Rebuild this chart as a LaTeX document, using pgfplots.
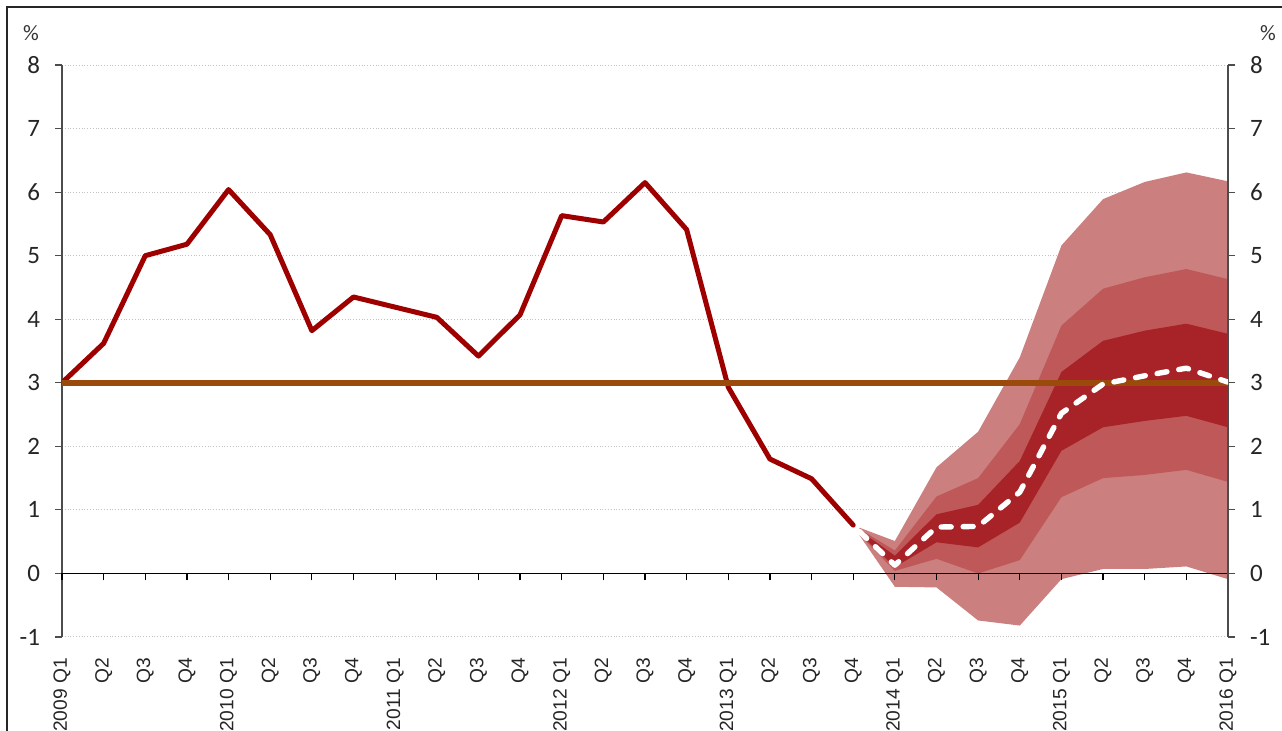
\documentclass[border=0pt]{standalone}
\usepackage{fontspec}
\setmainfont{Liberation Sans}
\newfontfamily\yfont{Carlito}
\usepackage{pgfplots}
\pgfplotsset{compat=1.18}
\usepackage{pgfplotstable}

\definecolor{lred}{RGB}{158,0,0}
\definecolor{lorange}{RGB}{154,74,10}
\definecolor{fout}{RGB}{203,127,127}
\definecolor{fmid}{RGB}{191,89,89}
\definecolor{finn}{RGB}{168,35,39}
\definecolor{gridc}{RGB}{195,195,195}

\pgfplotstableread{
x y
0 3.00
1 3.62
2 5.00
3 5.18
4 6.04
5 5.33
6 3.82
7 4.35
8 4.19
9 4.03
10 3.42
11 4.07
12 5.63
13 5.53
14 6.15
15 5.41
16 2.93
17 1.80
18 1.49
19 0.76
}\hist

\pgfplotstableread{
x c
19.15 0.66
20 0.13
21 0.73
22 0.74
23 1.28
24 2.52
25 2.98
26 3.11
27 3.23
28 3.01
}\central

\pgfplotstableread{
x y
0 3
28 3
}\target

\begin{document}
\begin{tikzpicture}
\useasboundingbox (0,0) rectangle (641pt,-365.5pt);
\draw[line width=1.1pt, black!85] (3.5pt,-400pt) -- (3.5pt,-3.5pt) -- (700pt,-3.5pt);
\node[font=\yfont\fontsize{11}{11}\selectfont, text=black!80] at (15.5pt,-16.5pt) {\%};
\node[font=\yfont\fontsize{11}{11}\selectfont, text=black!80] at (634pt,-16.5pt) {\%};
\begin{axis}[
  at={(31pt,-318.5pt)}, anchor=south west,
  width=583pt, height=286pt, scale only axis,
  xmin=0, xmax=28, ymin=-1, ymax=8,
  axis y line*=left, axis x line*=bottom,
  x axis line style={draw=none},
  y axis line style={black!70, line width=0.6pt},
  xtick={0,...,28},
  xticklabels={2009 Q1,Q2,Q3,Q4,2010 Q1,Q2,Q3,Q4,2011 Q1,Q2,Q3,Q4,2012 Q1,Q2,Q3,Q4,2013 Q1,Q2,Q3,Q4,2014 Q1,Q2,Q3,Q4,2015 Q1,Q2,Q3,Q4,2016 Q1},
  xticklabel style={rotate=90, anchor=east, font=\fontsize{9.6}{9.6}\selectfont, text=black!85, xshift=-3.5pt},
  major x tick style={draw=none},
  ytick={-1,...,8},
  yticklabels={-1,0,1,2,3,4,5,6,7,8},
  yticklabel style={font=\yfont\fontsize{12.5}{12.5}\selectfont, text=black!85, anchor=east, xshift=-4pt},
  tick align=outside,
  major tick length=3.5pt,
  major y tick style={black!70, line width=0.6pt},
  ymajorgrids,
  grid style={densely dotted, gridc, line width=0.5pt},
]
\addplot[fill=fout, draw=none] coordinates {(19.15,0.72)(20,0.51)(21,1.67)(22,2.23)(23,3.40)(24,5.16)(25,5.89)(26,6.16)(27,6.31)(28,6.17)(28,-0.09)(27,0.11)(26,0.07)(25,0.07)(24,-0.09)(23,-0.82)(22,-0.74)(21,-0.22)(20,-0.21)(19.15,0.60)} -- cycle;
\addplot[fill=fmid, draw=none] coordinates {(19.15,0.70)(20,0.36)(21,1.21)(22,1.50)(23,2.35)(24,3.90)(25,4.48)(26,4.66)(27,4.79)(28,4.63)(28,1.44)(27,1.63)(26,1.55)(25,1.50)(24,1.20)(23,0.21)(22,0.00)(21,0.23)(20,0.04)(19.15,0.61)} -- cycle;
\addplot[fill=finn, draw=none] coordinates {(19.15,0.68)(20,0.28)(21,0.93)(22,1.08)(23,1.77)(24,3.17)(25,3.66)(26,3.82)(27,3.93)(28,3.77)(28,2.30)(27,2.48)(26,2.40)(25,2.30)(24,1.93)(23,0.80)(22,0.41)(21,0.49)(20,0.10)(19.15,0.63)} -- cycle;
\addplot[lred, line width=2.5pt, line join=round, line cap=round] table[x=x,y=y]{\hist};
\end{axis}
\begin{axis}[
  at={(31pt,-318.5pt)}, anchor=south west,
  width=583pt, height=286pt, scale only axis,
  xmin=0, xmax=28, ymin=-1, ymax=8,
  axis y line*=right, axis x line*=middle,
  x axis line style={black, line width=0.7pt, -},
  y axis line style={black!70, line width=0.6pt},
  xtick={0,...,28}, xticklabels={},
  major x tick style={black, line width=0.6pt},
  xtick align=outside,
  ytick={-1,...,8},
  yticklabels={-1,0,1,2,3,4,5,6,7,8},
  yticklabel style={font=\yfont\fontsize{12.5}{12.5}\selectfont, text=black!85, anchor=west, xshift=4pt},
  ytick align=outside,
  major tick length=3.5pt,
  major y tick style={black!70, line width=0.6pt},
]
\addplot[lorange, line width=3pt] table[x=x,y=y]{\target};
\addplot[white, line width=2.7pt, line cap=round, dash pattern=on 5pt off 6pt, line join=round] table[x=x,y=c]{\central};
\end{axis}
\end{tikzpicture}
\end{document}
